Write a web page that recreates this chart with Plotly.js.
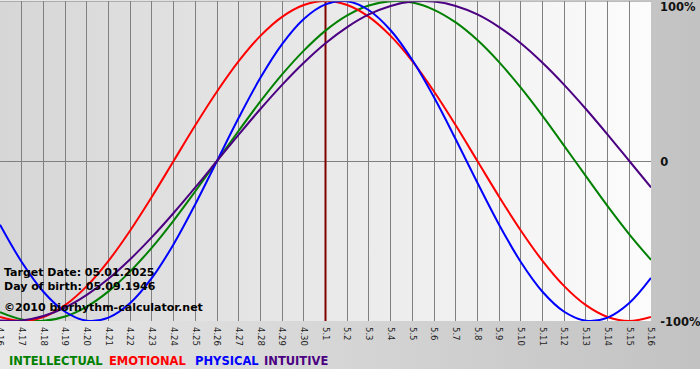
<!DOCTYPE html>
<html>
<head>
<meta charset="utf-8">
<script src="https://cdn.plot.ly/plotly-3.0.1.min.js"></script>
<style>
html,body{margin:0;padding:0;background:#fff;}
#chart{width:700px;height:380px;
background:
 linear-gradient(to right,#d6d6d6,#fcfcfc) 0 1px / 651px 320px no-repeat,
 linear-gradient(to bottom,rgba(255,255,255,0) 369px,#ffffff 369px),
 linear-gradient(to right,#e8e8e8,#c2c2c2);}
</style>
</head>
<body>
<div id="chart"></div>
<script>
// Dates (month.day)
const days = ["4.16","4.17","4.18","4.19","4.20","4.21","4.22","4.23","4.24","4.25","4.26","4.27","4.28","4.29","4.30",
  "5.1","5.2","5.3","5.4","5.5","5.6","5.7","5.8","5.9","5.10","5.11","5.12","5.13","5.14","5.15","5.16"];

// Values in percent
const intellectual = [-94.5,-99.0,-99.9,-97.2,-91.0,-81.5,-69.0,-54.1,-37.2,-18.9,0,18.9,37.2,54.1,69.0,81.5,91.0,97.2,99.9,99.0,94.5,86.6,75.6,61.8,45.8,28.2,9.5,-9.5,-28.2,-45.8,-61.8];
const emotional = [-97.5,-100,-97.5,-90.1,-78.2,-62.4,-43.4,-22.3,0,22.3,43.4,62.4,78.2,90.1,97.5,100,97.5,90.1,78.2,62.4,43.4,22.3,0,-22.3,-43.4,-62.4,-78.2,-90.1,-97.5,-100,-97.5];
const physical = [-39.8,-63.1,-81.7,-94.2,-99.8,-97.9,-88.8,-73.1,-52.0,-27.0,0,27.0,52.0,73.1,88.8,97.9,99.8,94.2,81.7,63.1,39.8,13.6,-13.6,-39.8,-63.1,-81.7,-94.2,-99.8,-97.9,-88.8,-73.1];
const intuitive = [-99.7,-99.7,-96.9,-91.6,-83.7,-73.6,-61.4,-47.6,-32.5,-16.5,0,16.5,32.5,47.6,61.4,73.6,83.7,91.6,96.9,99.7,99.7,96.9,91.6,83.7,73.6,61.4,47.6,32.5,16.5,0,-16.5];

const targetDay = "5.1";
const yTickVals = [-100, 0, 100];
const yTickText = ["-100%", "0", "100%"];

const seriesNames = ["INTELLECTUAL","EMOTIONAL","PHYSICAL","INTUITIVE"];
const seriesColors = ["#008000","#ff0000","#0000ff","#4b0082"];
const seriesData = [intellectual, emotional, physical, intuitive];

const traces = [];
// target date line
traces.push({x:[targetDay,targetDay], y:[-100,100], mode:'lines', line:{color:'#800000', width:2}, hoverinfo:'skip', showlegend:false});
seriesData.forEach((vals,i)=>{
  traces.push({x:days, y:vals, mode:'lines', name:seriesNames[i],
    line:{color:seriesColors[i], width:2, shape:'spline', smoothing:1}, showlegend:false, cliponaxis:true});
});

const font = "DejaVu Sans, Verdana, sans-serif";
const legendX = [7, 107, 193, 262];
const annotations = [
  {text:"Target Date: 05.01.2025", y:(321-272)/320},
  {text:"Day of birth: 05.09.1946", y:(321-286)/320},
  {text:"©2010 biorhythm-calculator.net", y:(321-307)/320}
].map(a=>({xref:'paper', yref:'paper', x:2/651, y:a.y, xanchor:'left', yanchor:'middle', showarrow:false,
  text:a.text, font:{family:font, size:11, color:'#000', weight:700}}));
seriesNames.forEach((n,i)=>{
  annotations.push({xref:'paper', yref:'paper', x:legendX[i]/651, y:(321-361)/320, xanchor:'left', yanchor:'middle',
    showarrow:false, text:n, font:{family:font, size:11.5, color:seriesColors[i], weight:700}});
});
// top label (the div edge would hide the axis label there), placed just under the top line like the original
annotations.push({xref:'paper', yref:'paper', x:658/651, y:(321-7)/320, xanchor:'left', yanchor:'middle', showarrow:false,
  text:yTickText[2], font:{family:font, size:11.5, color:'#111', weight:700}});

const layout = {
  width:700, height:380,
  margin:{l:0, r:49, t:1, b:59},
  paper_bgcolor:'rgba(0,0,0,0)', plot_bgcolor:'rgba(0,0,0,0)',
  showlegend:false,
  xaxis:{type:'category', categoryorder:'array', categoryarray:days, range:[0,30],
    showgrid:true, gridcolor:'#808080', gridwidth:1, zeroline:false, showline:false,
    tickangle:90, ticks:'', ticklabelstandoff:5, tickfont:{family:font, size:8.5, color:'#222'}, fixedrange:true},
  yaxis:{range:[-100,100], side:'right', tickvals:yTickVals.slice(0,2), ticktext:yTickText.slice(0,2),
    showgrid:true, gridcolor:'#808080', gridwidth:1, zeroline:false, showline:false,
    ticks:'outside', ticklen:6, tickcolor:'rgba(0,0,0,0)', ticklabelshift:1,
    tickfont:{family:font, size:11.5, color:'#111', weight:700}, fixedrange:true},
  shapes:[{type:'line', xref:'paper', yref:'y', x0:0, x1:1, y0:100, y1:100, line:{color:'#808080', width:1}}],
  annotations:annotations
};

Plotly.newPlot('chart', traces, layout, {displayModeBar:false, staticPlot:true});
</script>
</body>
</html>
